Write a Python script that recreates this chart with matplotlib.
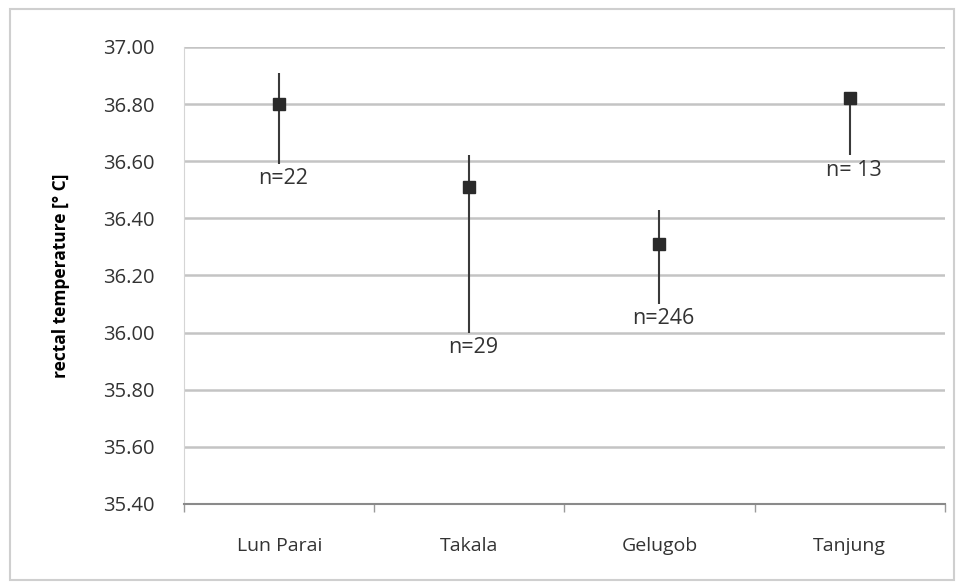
import matplotlib
matplotlib.use('Agg')
import matplotlib.pyplot as plt
from matplotlib.patches import Rectangle
from matplotlib.ticker import FormatStrFormatter, FixedLocator

sites = ['Lun Parai', 'Takala', 'Gelugob', 'Tanjung']
temp_mean = [36.80, 36.51, 36.31, 36.82]
temp_low = [36.59, 36.00, 36.10, 36.62]
temp_high = [36.91, 36.62, 36.43, 36.82]
n_labels = ['n=22', 'n=29', 'n=246', 'n= 13']

plt.rcParams['font.family'] = ['Open Sans', 'DejaVu Sans']

fig = plt.figure(figsize=(9.64, 5.86), dpi=100)
ax = fig.add_axes([0.191, 0.140, 0.789, 0.780])

# chart area border
fig.patches.append(Rectangle((0.010, 0.010), 0.980, 0.975, transform=fig.transFigure,
                             fill=False, edgecolor='#cfcfcf', linewidth=1.5))

x = range(len(sites))
ax.vlines(x, temp_low, temp_high, color='#3a3a3a', linewidth=1.5, zorder=3)
ax.plot(x, temp_mean, linestyle='none', marker='s', markersize=8.5,
        color='#2a2a2a', zorder=4)

for i, lab in enumerate(n_labels):
    ax.annotate(lab, (i, temp_low[i]), xytext=(3, -3), textcoords='offset points',
                ha='center', va='top', fontsize=15.5, color='#333333')

ax.set_ylim(35.40, 37.00)
ax.set_xlim(-0.5, len(sites) - 0.5)
ax.set_yticks([35.40 + 0.2 * k for k in range(9)])
ax.yaxis.set_major_formatter(FormatStrFormatter('%.2f'))
ax.set_xticks(list(x))
ax.set_xticklabels(sites)
ax.xaxis.set_minor_locator(FixedLocator([k - 0.5 for k in range(len(sites) + 1)]))
ax.tick_params(axis='x', which='major', length=0, pad=24, labelsize=14, labelcolor='#333333')
ax.tick_params(axis='x', which='minor', length=6, color='#9a9a9a', width=1)
ax.tick_params(axis='y', length=0, pad=21, labelsize=14.5, labelcolor='#333333')

ax.grid(axis='y', color='#c4c4c4', linewidth=1.8)
ax.set_axisbelow(True)
for side in ['top', 'right']:
    ax.spines[side].set_visible(False)
ax.spines['left'].set_color('#d5d5d5')
ax.spines['bottom'].set_color('#8a8a8a')
ax.spines['bottom'].set_linewidth(1.5)

ax.set_ylabel('rectal temperature [° C]', fontweight='bold', fontsize=12.5, labelpad=24)

plt.savefig('out.png', dpi=100)
